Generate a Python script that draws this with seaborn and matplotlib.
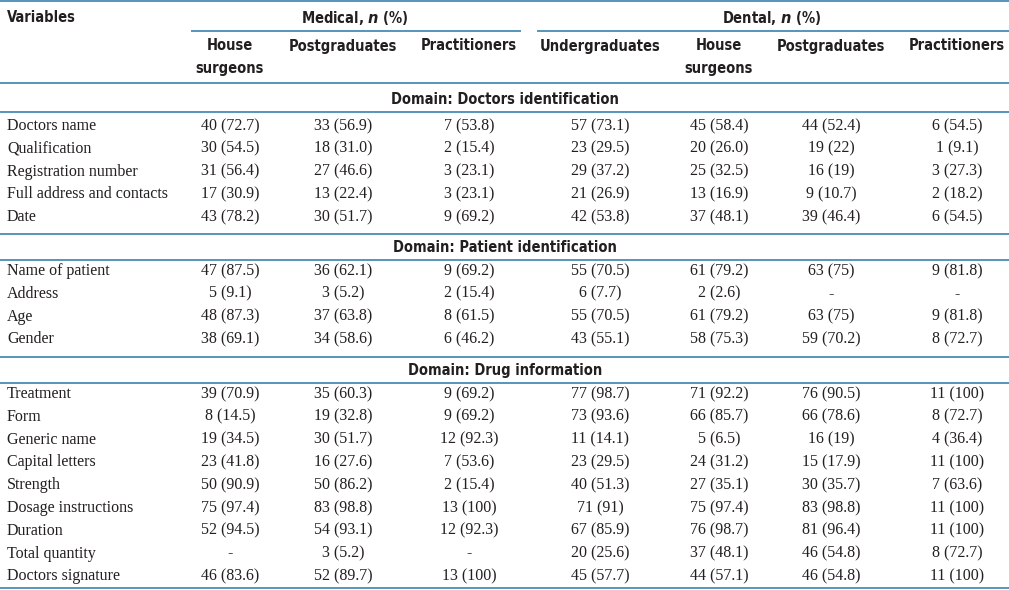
import matplotlib.pyplot as plt
import seaborn as sns

sns.set_theme(style="white")

# table content
group_titles = ["Medical", "Dental"]
sub_headers = [["House", "surgeons"], ["Postgraduates"], ["Practitioners"],
               ["Undergraduates"], ["House", "surgeons"], ["Postgraduates"], ["Practitioners"]]

domains = ["Domain: Doctors identification", "Domain: Patient identification", "Domain: Drug information"]
doctor_vars = ["Doctors name", "Qualification", "Registration number", "Full address and contacts", "Date"]
patient_vars = ["Name of patient", "Address", "Age", "Gender"]
drug_vars = ["Treatment", "Form", "Generic name", "Capital letters", "Strength",
             "Dosage instructions", "Duration", "Total quantity", "Doctors signature"]

med_house = ["40 (72.7)", "30 (54.5)", "31 (56.4)", "17 (30.9)", "43 (78.2)",
             "47 (87.5)", "5 (9.1)", "48 (87.3)", "38 (69.1)",
             "39 (70.9)", "8 (14.5)", "19 (34.5)", "23 (41.8)", "50 (90.9)", "75 (97.4)", "52 (94.5)", "-", "46 (83.6)"]
med_pg = ["33 (56.9)", "18 (31.0)", "27 (46.6)", "13 (22.4)", "30 (51.7)",
          "36 (62.1)", "3 (5.2)", "37 (63.8)", "34 (58.6)",
          "35 (60.3)", "19 (32.8)", "30 (51.7)", "16 (27.6)", "50 (86.2)", "83 (98.8)", "54 (93.1)", "3 (5.2)", "52 (89.7)"]
med_prac = ["7 (53.8)", "2 (15.4)", "3 (23.1)", "3 (23.1)", "9 (69.2)",
            "9 (69.2)", "2 (15.4)", "8 (61.5)", "6 (46.2)",
            "9 (69.2)", "9 (69.2)", "12 (92.3)", "7 (53.6)", "2 (15.4)", "13 (100)", "12 (92.3)", "-", "13 (100)"]
den_ug = ["57 (73.1)", "23 (29.5)", "29 (37.2)", "21 (26.9)", "42 (53.8)",
          "55 (70.5)", "6 (7.7)", "55 (70.5)", "43 (55.1)",
          "77 (98.7)", "73 (93.6)", "11 (14.1)", "23 (29.5)", "40 (51.3)", "71 (91)", "67 (85.9)", "20 (25.6)", "45 (57.7)"]
den_house = ["45 (58.4)", "20 (26.0)", "25 (32.5)", "13 (16.9)", "37 (48.1)",
             "61 (79.2)", "2 (2.6)", "61 (79.2)", "58 (75.3)",
             "71 (92.2)", "66 (85.7)", "5 (6.5)", "24 (31.2)", "27 (35.1)", "75 (97.4)", "76 (98.7)", "37 (48.1)", "44 (57.1)"]
den_pg = ["44 (52.4)", "19 (22)", "16 (19)", "9 (10.7)", "39 (46.4)",
          "63 (75)", "-", "63 (75)", "59 (70.2)",
          "76 (90.5)", "66 (78.6)", "16 (19)", "15 (17.9)", "30 (35.7)", "83 (98.8)", "81 (96.4)", "46 (54.8)", "46 (54.8)"]
den_prac = ["6 (54.5)", "1 (9.1)", "3 (27.3)", "2 (18.2)", "6 (54.5)",
            "9 (81.8)", "-", "9 (81.8)", "8 (72.7)",
            "11 (100)", "8 (72.7)", "4 (36.4)", "11 (100)", "7 (63.6)", "11 (100)", "11 (100)", "8 (72.7)", "11 (100)"]

columns = [med_house, med_pg, med_prac, den_ug, den_house, den_pg, den_prac]

# layout (pixels)
col_x = [230, 343, 469, 600, 719, 831, 957]
line_color = "#2878a8"
ink = "#231f20"
head = dict(fontsize=10.5, fontweight="bold", family="DejaVu Sans", fontstretch="condensed", color=ink)
body = dict(fontsize=11.5, family=["Liberation Serif", "DejaVu Serif"], color=ink)

fig = plt.figure(figsize=(10.09, 5.90), dpi=100)
ax = fig.add_axes([0, 0, 1, 1])
ax.set_xlim(0, 1009)
ax.set_ylim(590, 0)
ax.axis("off")


def hline(y, x0=0, x1=1009):
    ax.plot([x0, x1], [y, y], color=line_color, lw=1.1, solid_capstyle="butt")


hline(1)
ax.text(7, 18, "Variables", va="center", **head)
ax.text(355, 18, "Medical, $\\mathbfit{n}$ (%)", va="center", ha="center", **head)
ax.text(772, 18, "Dental, $\\mathbfit{n}$ (%)", va="center", ha="center", **head)
hline(31, 191, 521)
hline(31, 537, 1009)
for x, lab in zip(col_x, sub_headers):
    for k, part in enumerate(lab):
        ax.text(x, 46 + 22 * k, part, va="center", ha="center", **head)
hline(83)

blocks = [doctor_vars, patient_vars, drug_vars]
dom_y = [99, 247, 370]
row_start = [126, 271, 394]
row_h = 22.8
idx = 0
for b, (names, dy, ry) in enumerate(zip(blocks, dom_y, row_start)):
    ax.text(505, dy, domains[b], va="center", ha="center", **head)
    if b > 0:
        hline(dy - 13)
    hline(dy + 13)
    for r, name in enumerate(names):
        y = ry + r * row_h
        ax.text(7, y, name, va="center", **body)
        for x, col in zip(col_x, columns):
            ax.text(x, y, col[idx], va="center", ha="center", **body)
        idx += 1
hline(588)

fig.savefig("out.png", dpi=100)
